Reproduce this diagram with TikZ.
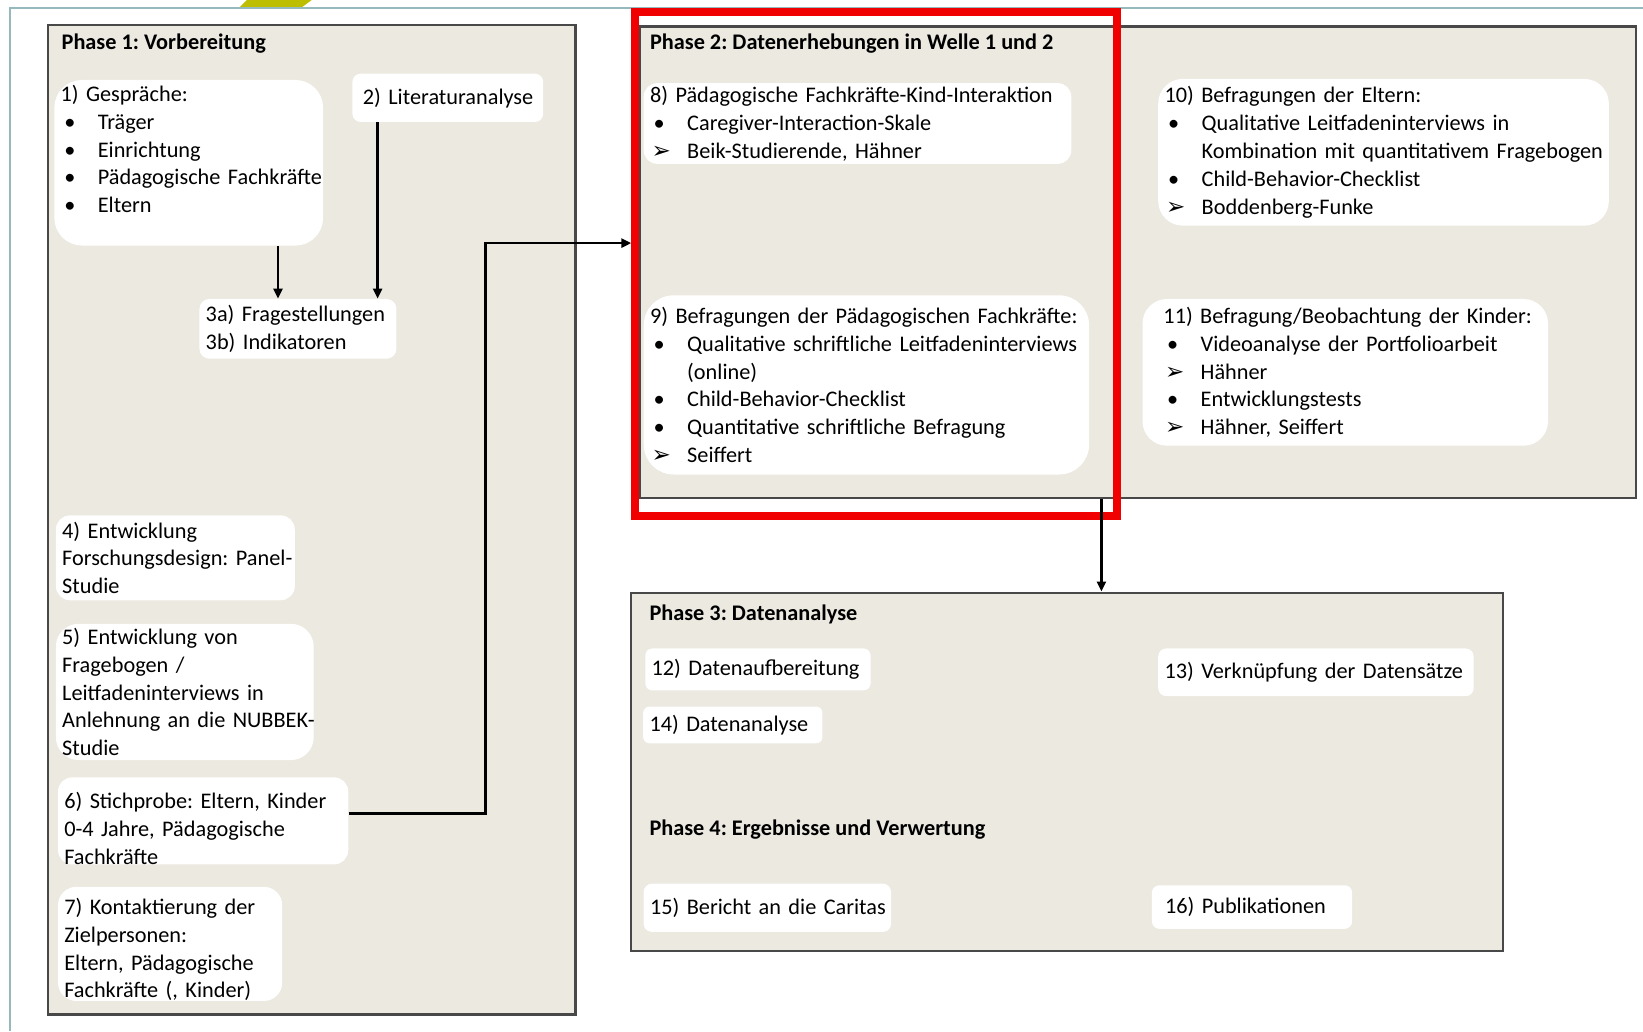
\documentclass[tikz,border=0pt]{standalone}
\usepackage{fontspec}
\setmainfont{Carlito}
\newfontfamily\symfont{DejaVu Sans}
\usetikzlibrary{arrows.meta}

\definecolor{phasebg}{RGB}{236,233,224}
\definecolor{phaseline}{RGB}{72,72,72}
\definecolor{framegray}{RGB}{150,185,190}
\definecolor{logoolive}{RGB}{190,190,0}
\definecolor{markred}{RGB}{240,0,0}

\hyphenpenalty=10000
\exhyphenpenalty=10000
\frenchspacing

\newcommand{\itembul}{\makebox[0.71cm][l]{\hspace{0.07cm}\textbullet}}
\newcommand{\itemarr}{\makebox[0.71cm][l]{\hspace{0.03cm}{\symfont\fontsize{12.5}{15}\selectfont ➢}}}

\tikzset{
  phasebox/.style 2 args={draw=phaseline, fill=phasebg, line width=1.3pt, anchor=north west,
                          inner sep=0pt, minimum width=#1, minimum height=#2},
  card/.style 2 args={fill=white, rounded corners=#2/6, anchor=north west, align=left,
                      inner xsep=0.12cm, inner ysep=0pt, text width=#1, minimum height=#2},
  phasetitle/.style={anchor=base west, inner sep=0pt, font=\fontsize{12.1}{15}\selectfont\bfseries},
  conn/.style={line width=1.5pt, arrows=-{Triangle[length=1.9mm,width=1.7mm]}}
}

\begin{document}
\begin{tikzpicture}[font=\fontsize{12.1}{15.1}\selectfont]

    %\draw [help lines] (0,0) grid (31,19);
    \useasboundingbox (0,0) rectangle (31.36,19.68);

    \fill[logoolive] (4.57,19.54) -- (4.71,19.68) -- (5.95,19.68) -- (5.76,19.54) -- cycle;
    \draw[framegray, line width=0.9pt] (0.186,0) -- (0.186,19.53) -- (31.36,19.53);

    \path   (0.89,19.23) node (phaseone) [phasebox={10.07cm}{18.89cm}] {}
            (12.19,19.20) node (phasetwo) [phasebox={19.01cm}{9.0cm}] {}
            (12.02,8.39) node (phasethree) [phasebox={16.65cm}{6.84cm}] {};

    \path   (1.17,18.74) node (titleone) [phasetitle] {Phase 1: Vorbereitung}
            (12.4,18.74) node (titletwo) [phasetitle] {Phase 2: Datenerhebungen in Welle 1 und 2}
            (12.39,7.84) node (titlethree) [phasetitle] {Phase 3: Datenanalyse}
            (12.39,3.74) node (titlefour) [phasetitle] {Phase 4: Ergebnisse und Verwertung};

    % Phase 1
    \path   (1.03,18.16) node (talks) [card={4.89cm}{3.16cm}]
                {1) Gespräche:\\ \itembul Träger\\ \itembul Einrichtung\\
                 \itembul Pädagogische~Fachkräfte\\ \itembul Eltern\\ \mbox{}}
            (6.72,18.28) node (lit) [card={3.24cm}{0.92cm}, inner xsep=0.2cm] {2)~Literaturanalyse}
            (3.8,13.98) node (questions) [card={3.52cm}{1.14cm}] {3a) Fragestellungen\\ 3b) Indikatoren}
            (1.06,9.85) node (design) [card={4.32cm}{1.62cm}]
                {4) Entwicklung\\ Forschungsdesign:~Panel-\\ Studie}
            (1.06,7.78) node (instruments) [card={4.68cm}{2.6cm}]
                {5) Entwicklung von\\ Fragebogen /\\ Leitfadeninterviews~in\\
                 Anlehnung~an~die~NUBBEK-\\ Studie}
            (1.1,4.85) node (sample) [card={5.30cm}{1.62cm}]
                {\rule{0pt}{17pt}6) Stichprobe: Eltern, Kinder\\ 0-4 Jahre, Pädagogische\\ Fachkräfte}
            (1.1,2.76) node (contact) [card={4.04cm}{2.1cm}]
                {\rule{0pt}{15pt}7) Kontaktierung der\\ Zielpersonen:\\ Eltern, Pädagogische\\ Fachkräfte (, Kinder)};

    % Phase 2
    \path   (12.28,18.1) node (interaction) [card={7.92cm}{1.54cm}]
                {8) Pädagogische Fachkräfte-Kind-Interaktion\\
                 \itembul Caregiver-Interaction-Skale\\ \itemarr Beik-Studierende, Hähner}
            (12.28,14.05) node (staff) [card={8.26cm}{3.42cm}]
                {9)~Befragungen~der~Pädagogischen~Fachkräfte:\\
                 \itembul Qualitative~schriftliche~Leitfadeninterviews\\ \hspace*{0.71cm}(online)\\
                 \itembul Child-Behavior-Checklist\\ \itembul Quantitative schriftliche Befragung\\
                 \itemarr Seiffert}
            (22.1,18.18) node (parents) [card={8.36cm}{2.8cm}]
                {10) Befragungen der Eltern:\\ \itembul Qualitative Leitfadeninterviews in\\
                 \hspace*{0.71cm}Kombination~mit~quantitativem~Fragebogen\\
                 \itembul Child-Behavior-Checklist\\ \itemarr Boddenberg-Funke}
            (21.8,13.98) node (children) [card={6.94cm}{2.8cm}, inner xsep=0.4cm]
                {11)~Befragung/Beobachtung~der~Kinder:\\ \itembul Videoanalyse der Portfolioarbeit\\
                 \itemarr Hähner\\ \itembul Entwicklungstests\\ \itemarr Hähner, Seiffert};

    % Phase 3 und 4
    \path   (12.31,7.31) node (prep) [card={4.06cm}{0.8cm}] {12)~Datenaufbereitung}
            (22.1,7.31) node (linkage) [card={5.78cm}{0.91cm}] {13) Verknüpfung der Datensätze}
            (12.27,6.2) node (analysis) [card={3.18cm}{0.7cm}] {14)~Datenanalyse}
            (12.28,2.82) node (report) [card={4.48cm}{0.92cm}] {15)~Bericht~an~die~Caritas}
            (21.98,2.79) node (pubs) [card={3.32cm}{0.83cm}, inner xsep=0.25cm] {16) Publikationen};

    \node (focus) [draw=markred, line width=4pt, anchor=north west, inner sep=0pt,
                   minimum width=9.2cm, minimum height=9.62cm] at (12.05,19.52) {};

    \coordinate (bend) at (9.26,15.04);

    \draw[conn] ([xshift=1.705cm]talks.south) coordinate (fromtalks) -- (fromtalks |- questions.north);
    \draw[conn] ([xshift=-1.34cm]lit.south) coordinate (fromlit) -- (fromlit |- questions.north);
    \draw[conn] ([yshift=0.14cm]sample.east) -| (bend) -- (focus.west |- bend);
    \draw[conn] ([xshift=-0.695cm]phasetwo.south) coordinate (fromtwo) -- (fromtwo |- phasethree.north);

\end{tikzpicture}
\end{document}
